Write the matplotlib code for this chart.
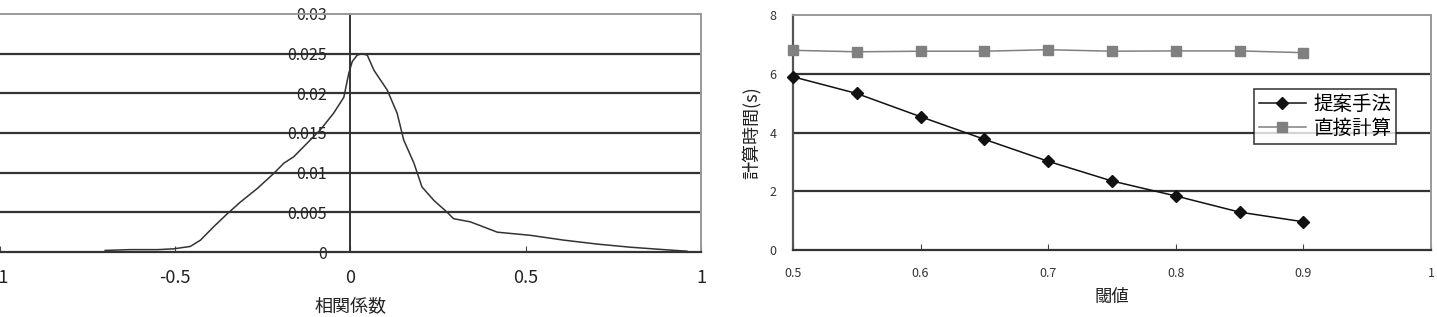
import matplotlib
matplotlib.use("Agg")
from matplotlib import pyplot as plt
from matplotlib.ticker import FixedLocator

plt.rcParams['font.family'] = ['Noto Sans CJK JP', 'DejaVu Sans']

# left chart: distribution of correlation coefficients
corr_x = [-0.70, -0.63, -0.55, -0.505, -0.457, -0.428, -0.39, -0.352, -0.314,
          -0.266, -0.219, -0.19, -0.162, -0.124, -0.086, -0.048, -0.019,
          -0.005, 0.005, 0.019, 0.033, 0.048, 0.067, 0.105, 0.133, 0.152,
          0.181, 0.204, 0.238, 0.276, 0.294, 0.342, 0.419, 0.514, 0.608,
          0.704, 0.80, 0.894, 0.96]
corr_y = [0.0002, 0.0003, 0.0003, 0.0004, 0.0007, 0.0015, 0.0032, 0.0048,
          0.0063, 0.0080, 0.0099, 0.0112, 0.0120, 0.0137, 0.0154, 0.0175,
          0.0195, 0.0225, 0.0240, 0.0248, 0.0250, 0.0248, 0.0229, 0.0204,
          0.0175, 0.0141, 0.0112, 0.0082, 0.0065, 0.0050, 0.0042, 0.0038,
          0.0025, 0.0021, 0.0015, 0.0010, 0.0006, 0.0003, 0.0001]
left_yticks = [0, 0.005, 0.01, 0.015, 0.02, 0.025, 0.03]
left_ylabels = ["0", "0.005", "0.01", "0.015", "0.02", "0.025", "0.03"]
left_xticks = [-1, -0.5, 0, 0.5, 1]
left_xlabels = ["-1", "-0.5", "0", "0.5", "1"]

# right chart: computation time vs threshold
thresholds = [0.5, 0.55, 0.6, 0.65, 0.7, 0.75, 0.8, 0.85, 0.9]
proposed = [5.90, 5.33, 4.54, 3.77, 3.02, 2.35, 1.84, 1.29, 0.96]
direct = [6.80, 6.75, 6.77, 6.77, 6.82, 6.77, 6.78, 6.78, 6.72]
right_xticks = [0.5, 0.6, 0.7, 0.8, 0.9, 1.0]
right_xlabels = ["0.5", "0.6", "0.7", "0.8", "0.9", "1"]
right_yticks = [0, 2, 4, 6, 8]

fig = plt.figure(figsize=(14.37, 3.17), dpi=100)
fig.patch.set_facecolor("white")

grid_col = "#333333"
frame_col = "#999999"
tick_col = "#444444"

# ---- left ----
ax1 = fig.add_axes([0.0, 0.205, 0.4878, 0.751])
ax1.set_xlim(-1, 1)
ax1.set_ylim(0, 0.03)
for v in left_yticks[1:-1]:
    ax1.axhline(v, color=grid_col, lw=1.6, zorder=1)
ax1.plot(corr_x, corr_y, color="#333333", lw=1.1, zorder=3)
ax1.spines["left"].set_position(("data", 0))
ax1.spines["left"].set_color(grid_col)
ax1.spines["left"].set_linewidth(1.4)
ax1.spines["bottom"].set_color(grid_col)
ax1.spines["bottom"].set_linewidth(1.6)
ax1.spines["top"].set_color(frame_col)
ax1.spines["right"].set_color(frame_col)
ax1.spines["top"].set_linewidth(1.4)
ax1.spines["right"].set_linewidth(1.4)
ax1.yaxis.set_major_locator(FixedLocator(left_yticks))
ax1.set_yticklabels(left_ylabels, fontsize=11.5, color="#222222")
ax1.tick_params(axis="y", length=0, pad=17)
ax1.xaxis.set_major_locator(FixedLocator(left_xticks))
ax1.set_xticklabels(left_xlabels, fontsize=13, color="#222222")
ax1.tick_params(axis="x", direction="in", length=4, pad=12, color=tick_col)
ax1.set_xlabel("相関係数", fontsize=13, labelpad=8, color="#222222")

# ---- right ----
ax2 = fig.add_axes([0.5518, 0.2114, 0.444, 0.741])
ax2.set_xlim(0.5, 1.0)
ax2.set_ylim(0, 8)
for v in right_yticks[1:-1]:
    ax2.axhline(v, color=grid_col, lw=1.6, zorder=1)
ax2.plot(thresholds, proposed, color="#111111", lw=1.1, marker="D",
         markersize=6.5, markerfacecolor="#111111", markeredgecolor="#111111",
         label="提案手法", zorder=4, clip_on=False)
ax2.plot(thresholds, direct, color="#808080", lw=1.1, marker="s",
         markersize=7.5, markerfacecolor="#808080", markeredgecolor="#808080",
         label="直接計算", zorder=3, clip_on=False)
ax2.spines["left"].set_color("#555555")
ax2.spines["left"].set_linewidth(1.6)
ax2.spines["bottom"].set_color(grid_col)
ax2.spines["bottom"].set_linewidth(1.6)
ax2.spines["top"].set_color(frame_col)
ax2.spines["right"].set_color(frame_col)
ax2.spines["top"].set_linewidth(1.4)
ax2.spines["right"].set_linewidth(1.4)
ax2.xaxis.set_major_locator(FixedLocator(right_xticks))
ax2.set_xticklabels(right_xlabels, fontsize=9, color="#333333")
ax2.tick_params(axis="x", direction="in", length=4, pad=12, color=tick_col)
ax2.yaxis.set_major_locator(FixedLocator(right_yticks))
ax2.set_yticklabels([str(v) for v in right_yticks], fontsize=9, color="#333333")
ax2.tick_params(axis="y", length=0, pad=12)
ax2.set_xlabel("閾値", fontsize=12.5, labelpad=6, color="#222222")
ax2.set_ylabel("計算時間(s)", fontsize=13, labelpad=6, color="#222222")

leg = ax2.legend(loc="upper left", bbox_to_anchor=(1254 / 1437, 1 - 89 / 317),
                 bbox_transform=fig.transFigure, fontsize=14, frameon=True,
                 fancybox=False, handlelength=2.4, handletextpad=0.4,
                 borderpad=0.25, labelspacing=0.15, borderaxespad=0)
leg.get_frame().set_edgecolor("#111111")
leg.get_frame().set_linewidth(1.2)

fig.savefig("out.png", dpi=100, facecolor="white")
